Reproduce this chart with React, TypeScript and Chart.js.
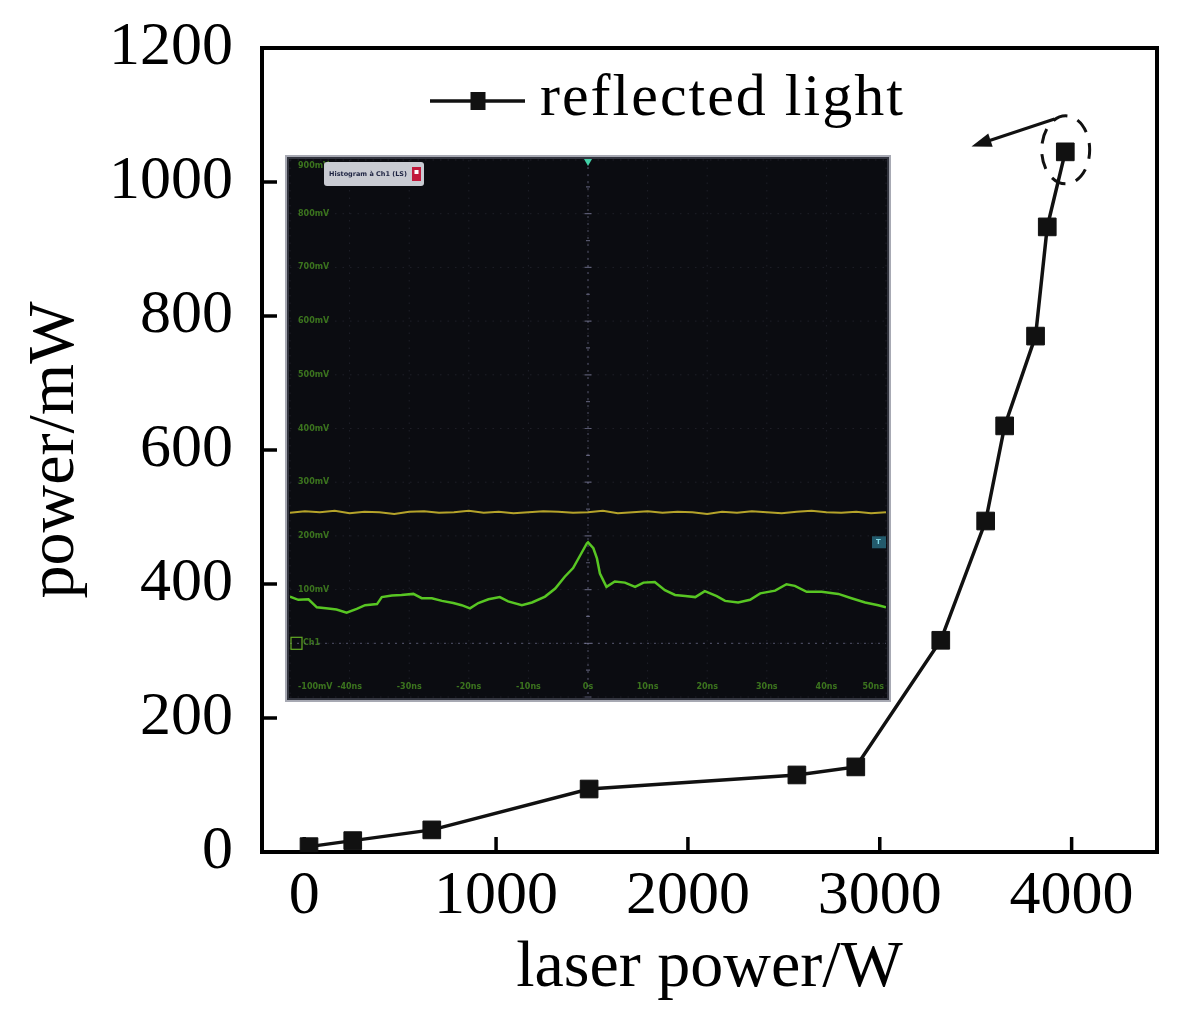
import React, { useEffect, useRef } from 'react';
import { Chart, registerables } from 'chart.js';

Chart.register(...registerables);

const SERIF = '"Liberation Serif", "Times New Roman", serif';

// ---------------- main chart data ----------------
const laserPower = [25, 253, 665, 1485, 2568, 2875, 3318, 3552, 3651, 3812, 3873, 3967];
const reflectedPower = [8, 17, 33, 94, 115, 127, 316, 494, 636, 770, 933, 1045];
const seriesLabel = 'reflected light';
const xTicks = [0, 1000, 2000, 3000, 4000];
const yTicks = [0, 200, 400, 600, 800, 1000, 1200];
const xTitle = 'laser power/W';
const yTitle = 'power/mW';
const arrowFrom = [3911, 1094];
const arrowTo = [3478, 1053];
const highlightCenter = [3969, 1048];

// ---------------- inset (oscilloscope screen, in divisions) ----------------
const scopeDivs = [0, 1, 2, 3, 4, 5, 6, 7, 8, 9, 10];
const scopeTime = [0, 0.14, 0.31, 0.45, 0.64, 0.78, 0.95, 1.12, 1.26, 1.46, 1.54, 1.71, 1.87, 2.07, 2.21, 2.38, 2.55, 2.74, 2.88, 3.02, 3.16, 3.33, 3.52, 3.66, 3.89, 4.06, 4.28, 4.45, 4.61, 4.75, 4.87, 4.98, 5.0, 5.09, 5.15, 5.2, 5.31, 5.45, 5.62, 5.79, 5.93, 6.12, 6.29, 6.46, 6.63, 6.8, 6.96, 7.16, 7.3, 7.52, 7.72, 7.89, 8.14, 8.33, 8.47, 8.67, 8.92, 9.2, 9.42, 9.65, 9.87, 10];
const scopeGreen = [1.87, 1.81, 1.82, 1.67, 1.65, 1.63, 1.57, 1.64, 1.71, 1.73, 1.86, 1.89, 1.9, 1.92, 1.84, 1.84, 1.79, 1.75, 1.71, 1.65, 1.75, 1.82, 1.86, 1.78, 1.71, 1.76, 1.87, 2.02, 2.24, 2.4, 2.64, 2.86, 2.88, 2.77, 2.58, 2.3, 2.05, 2.15, 2.13, 2.05, 2.13, 2.14, 1.99, 1.9, 1.88, 1.86, 1.97, 1.88, 1.79, 1.76, 1.81, 1.93, 1.98, 2.1, 2.07, 1.96, 1.96, 1.92, 1.84, 1.76, 1.71, 1.67];
const scopeYellowTime = [0, 0.25, 0.5, 0.75, 1, 1.25, 1.5, 1.75, 2, 2.25, 2.5, 2.75, 3, 3.25, 3.5, 3.75, 4, 4.25, 4.5, 4.75, 5, 5.25, 5.5, 5.75, 6, 6.25, 6.5, 6.75, 7, 7.25, 7.5, 7.75, 8, 8.25, 8.5, 8.75, 9, 9.25, 9.5, 9.75, 10];
const scopeYellow = [3.43, 3.46, 3.44, 3.47, 3.42, 3.45, 3.44, 3.41, 3.45, 3.46, 3.43, 3.44, 3.47, 3.43, 3.45, 3.42, 3.44, 3.46, 3.45, 3.43, 3.44, 3.47, 3.42, 3.44, 3.46, 3.43, 3.45, 3.44, 3.41, 3.45, 3.43, 3.46, 3.44, 3.42, 3.45, 3.47, 3.44, 3.43, 3.45, 3.42, 3.44];
const scopeLeftLabels = ['900mV', '800mV', '700mV', '600mV', '500mV', '400mV', '300mV', '200mV', '100mV', '-100mV'];
const scopeLeftDivs = [10, 9, 8, 7, 6, 5, 4, 3, 2, 0];
const scopeBottomLabels = ['-40ns', '-30ns', '-20ns', '-10ns', '0s', '10ns', '20ns', '30ns', '40ns', '50ns'];
const scopeBottomDivs = [1, 2, 3, 4, 5, 6, 7, 8, 9, 10];
const scopeHeader = 'Histogram à Ch1 (LS)';
const scopeChannel = 'Ch1';
const scopeChannelDiv = 1;
const scopeTriggerDiv = 5;

const mainDecor = {
  id: 'mainDecor',
  beforeDatasetsDraw(chart: any) {
    const { ctx, chartArea: a, scales } = chart;
    const xs = scales.x;
    const ys = scales.y;
    ctx.save();
    ctx.strokeStyle = '#000';
    ctx.lineWidth = 3.5;
    xTicks.forEach((v) => {
      const p = xs.getPixelForValue(v);
      ctx.beginPath();
      ctx.moveTo(p, a.bottom);
      ctx.lineTo(p, a.bottom - 15);
      ctx.stroke();
    });
    yTicks.forEach((v) => {
      const p = ys.getPixelForValue(v);
      ctx.beginPath();
      ctx.moveTo(a.left, p);
      ctx.lineTo(a.left + 15, p);
      ctx.stroke();
    });
    ctx.lineWidth = 4;
    ctx.strokeRect(a.left, a.top, a.right - a.left, a.bottom - a.top);
    ctx.restore();
  },
  afterDatasetsDraw(chart: any) {
    const { ctx, chartArea: a, scales } = chart;
    const xs = scales.x;
    const ys = scales.y;
    ctx.save();
    // dashed highlight ellipse
    const cx = xs.getPixelForValue(highlightCenter[0]);
    const cy = ys.getPixelForValue(highlightCenter[1]);
    ctx.strokeStyle = '#111';
    ctx.lineWidth = 3;
    ctx.setLineDash([15, 11]);
    ctx.lineDashOffset = 6;
    ctx.beginPath();
    ctx.ellipse(cx, cy, 24, 34, 0, 0, Math.PI * 2);
    ctx.stroke();
    ctx.setLineDash([]);
    // arrow
    const x0 = xs.getPixelForValue(arrowFrom[0]);
    const y0 = ys.getPixelForValue(arrowFrom[1]);
    const x1 = xs.getPixelForValue(arrowTo[0]);
    const y1 = ys.getPixelForValue(arrowTo[1]);
    const ang = Math.atan2(y1 - y0, x1 - x0);
    const hl = 20;
    const hw = 7;
    ctx.lineWidth = 3;
    ctx.beginPath();
    ctx.moveTo(x0, y0);
    ctx.lineTo(x1 - Math.cos(ang) * hl * 0.6, y1 - Math.sin(ang) * hl * 0.6);
    ctx.stroke();
    ctx.fillStyle = '#111';
    ctx.beginPath();
    ctx.moveTo(x1, y1);
    ctx.lineTo(x1 - Math.cos(ang) * hl + Math.sin(ang) * hw, y1 - Math.sin(ang) * hl - Math.cos(ang) * hw);
    ctx.lineTo(x1 - Math.cos(ang) * hl - Math.sin(ang) * hw, y1 - Math.sin(ang) * hl + Math.cos(ang) * hw);
    ctx.closePath();
    ctx.fill();
    // legend
    const ly = a.top + 53;
    const lx = a.left + 168;
    ctx.strokeStyle = '#111';
    ctx.lineWidth = 3.5;
    ctx.beginPath();
    ctx.moveTo(lx, ly);
    ctx.lineTo(lx + 95, ly);
    ctx.stroke();
    ctx.fillStyle = '#111';
    ctx.fillRect(lx + 48 - 7.5, ly - 9, 15, 18);
    ctx.fillStyle = '#000';
    ctx.font = `60px ${SERIF}`;
    try { (ctx as any).letterSpacing = '2px'; } catch (e) { /* ignore */ }
    ctx.textAlign = 'left';
    ctx.textBaseline = 'alphabetic';
    ctx.fillText(chart.data.datasets[0].label, lx + 110, a.top + 67);
    try { (ctx as any).letterSpacing = '0px'; } catch (e) { /* ignore */ }
    ctx.restore();
  },
};

const scopeDecor = {
  id: 'scopeDecor',
  beforeDatasetsDraw(chart: any) {
    const { ctx, width, height, chartArea: a, scales } = chart;
    const xs = scales.x;
    const ys = scales.y;
    ctx.save();
    ctx.fillStyle = '#0b0c11';
    ctx.fillRect(0, 0, width, height);
    ctx.strokeStyle = '#a7a9b3';
    ctx.lineWidth = 2;
    ctx.strokeRect(1, 1, width - 2, height - 2);
    ctx.strokeStyle = '#33353f';
    ctx.lineWidth = 2;
    ctx.strokeRect(3, 3, width - 6, height - 6);
    // faint dotted grid
    ctx.lineWidth = 1;
    ctx.setLineDash([1.5, 6]);
    ctx.strokeStyle = 'rgba(120,120,150,0.18)';
    scopeDivs.forEach((d) => {
      const px = xs.getPixelForValue(d);
      ctx.beginPath();
      ctx.moveTo(px, a.top);
      ctx.lineTo(px, a.bottom);
      ctx.stroke();
      const py = ys.getPixelForValue(d);
      ctx.beginPath();
      ctx.moveTo(a.left, py);
      ctx.lineTo(a.right, py);
      ctx.stroke();
    });
    // brighter reference lines
    ctx.setLineDash([2, 5]);
    ctx.strokeStyle = 'rgba(150,150,190,0.5)';
    const cxp = xs.getPixelForValue(scopeTriggerDiv);
    ctx.beginPath();
    ctx.moveTo(cxp, a.top);
    ctx.lineTo(cxp, a.bottom);
    ctx.stroke();
    const chp = ys.getPixelForValue(scopeChannelDiv);
    ctx.beginPath();
    ctx.moveTo(a.left, chp);
    ctx.lineTo(a.right, chp);
    ctx.stroke();
    ctx.setLineDash([]);
    // minor ticks on center line
    ctx.strokeStyle = 'rgba(150,150,185,0.55)';
    ctx.lineWidth = 1.2;
    for (let i = 0; i < scopeDivs.length - 1; i++) {
      const mid = ys.getPixelForValue((scopeDivs[i] + scopeDivs[i + 1]) / 2);
      const maj = ys.getPixelForValue(scopeDivs[i]);
      ctx.beginPath();
      ctx.moveTo(cxp - 2, mid);
      ctx.lineTo(cxp + 2, mid);
      ctx.moveTo(cxp - 3.5, maj);
      ctx.lineTo(cxp + 3.5, maj);
      ctx.stroke();
    }
    ctx.restore();
  },
  afterDatasetsDraw(chart: any) {
    const { ctx, chartArea: a, scales } = chart;
    const xs = scales.x;
    const ys = scales.y;
    ctx.save();
    ctx.font = 'bold 8px "DejaVu Sans", sans-serif';
    ctx.fillStyle = 'rgba(80,160,35,0.7)';
    ctx.textAlign = 'left';
    ctx.textBaseline = 'middle';
    scopeLeftLabels.forEach((t, i) => {
      let py = ys.getPixelForValue(scopeLeftDivs[i]);
      py = Math.max(a.top + 6, Math.min(a.bottom - 10, py));
      ctx.fillText(t, a.left + 8, py);
    });
    const by = ys.getPixelForValue(0) - 10;
    scopeBottomLabels.forEach((t, i) => {
      const d = scopeBottomDivs[i];
      const px = xs.getPixelForValue(d);
      ctx.textAlign = d === 10 ? 'right' : 'center';
      ctx.fillText(t, d === 10 ? px - 2 : px, by);
    });
    // channel marker
    const chp = ys.getPixelForValue(scopeChannelDiv);
    ctx.strokeStyle = 'rgba(110,190,40,0.9)';
    ctx.lineWidth = 1.2;
    ctx.strokeRect(a.left + 1, chp - 6, 11, 12);
    ctx.textAlign = 'left';
    ctx.fillText(scopeChannel, a.left + 13, chp);
    // trigger marker
    const tx = xs.getPixelForValue(scopeTriggerDiv);
    ctx.fillStyle = '#43d2a8';
    ctx.beginPath();
    ctx.moveTo(tx - 4, a.top - 1);
    ctx.lineTo(tx + 4, a.top - 1);
    ctx.lineTo(tx, a.top + 6);
    ctx.closePath();
    ctx.fill();
    // right level marker
    const ry = ys.getPixelForValue(scopeYellow[scopeYellow.length - 1]) + 30;
    ctx.fillStyle = 'rgba(40,105,125,0.85)';
    ctx.fillRect(a.right - 14, ry - 6, 14, 12);
    ctx.fillStyle = '#7fd8e6';
    ctx.font = 'bold 7px "DejaVu Sans", sans-serif';
    ctx.fillText('T', a.right - 10, ry);
    // header box
    const hx = a.left + 34;
    const hy = a.top + 2;
    ctx.fillStyle = '#c9cbd2';
    ctx.beginPath();
    (ctx as any).roundRect ? (ctx as any).roundRect(hx, hy, 100, 24, 3) : ctx.rect(hx, hy, 100, 24);
    ctx.fill();
    ctx.fillStyle = '#1c2240';
    ctx.font = 'bold 6.5px "DejaVu Sans", sans-serif';
    ctx.textAlign = 'left';
    ctx.fillText(scopeHeader, hx + 5, hy + 12, 80);
    ctx.fillStyle = '#c21a3c';
    ctx.fillRect(hx + 88, hy + 5, 9, 14);
    ctx.fillStyle = '#fff';
    ctx.fillRect(hx + 90.5, hy + 8, 4, 4);
    ctx.restore();
  },
};

export default function App() {
  const mainRef = useRef<HTMLCanvasElement | null>(null);
  const insetRef = useRef<HTMLCanvasElement | null>(null);

  useEffect(() => {
    if (!mainRef.current || !insetRef.current) return;
    const main = new Chart(mainRef.current, {
      type: 'line',
      data: {
        datasets: [
          {
            label: seriesLabel,
            data: laserPower.map((x, i) => ({ x, y: reflectedPower[i] })),
            borderColor: '#111',
            borderWidth: 3.5,
            backgroundColor: '#111',
            pointStyle: 'rect',
            pointRadius: 12.5,
            pointBackgroundColor: '#111',
            pointBorderColor: '#111',
            pointBorderWidth: 1,
            tension: 0,
          },
        ],
      },
      options: {
        responsive: false,
        animation: false,
        layout: { padding: { left: 0, right: 24, top: 48, bottom: 0 } },
        plugins: { legend: { display: false }, tooltip: { enabled: false } },
        scales: {
          x: {
            type: 'linear',
            min: -220,
            max: 4445,
            afterBuildTicks: (s: any) => {
              s.ticks = xTicks.map((v) => ({ value: v }));
            },
            afterFit: (s: any) => {
              s.height = 176;
              s.paddingLeft = 0;
              s.paddingRight = 0;
            },
            grid: { display: false, drawTicks: false },
            border: { display: false },
            ticks: {
              padding: 8,
              color: '#000',
              autoSkip: false,
              maxRotation: 0,
              font: { family: SERIF, size: 62 },
              callback: (v: any) => String(v),
            },
            title: {
              display: true,
              text: xTitle,
              color: '#000',
              font: { family: SERIF, size: 66 },
              padding: { top: 0, bottom: 20 },
            },
          },
          y: {
            type: 'linear',
            min: 0,
            max: 1200,
            afterBuildTicks: (s: any) => {
              s.ticks = yTicks.map((v) => ({ value: v }));
            },
            afterFit: (s: any) => {
              s.width = 262;
              s.paddingTop = 0;
              s.paddingBottom = 0;
            },
            grid: { display: false, drawTicks: false },
            border: { display: false },
            ticks: {
              padding: 29,
              color: '#000',
              font: { family: SERIF, size: 62 },
              callback: (v: any) => String(v),
            },
            title: {
              display: true,
              text: yTitle,
              color: '#000',
              font: { family: SERIF, size: 66 },
              padding: { top: 16, bottom: 0 },
            },
          },
        },
      },
      plugins: [mainDecor],
    });

    const inset = new Chart(insetRef.current, {
      type: 'line',
      data: {
        datasets: [
          {
            label: 'trace 2',
            data: scopeYellowTime.map((x, i) => ({ x, y: scopeYellow[i] })),
            borderColor: '#b5a32a',
            borderWidth: 2,
            pointRadius: 0,
            tension: 0,
          },
          {
            label: 'trace 1',
            data: scopeTime.map((x, i) => ({ x, y: scopeGreen[i] })),
            borderColor: '#58c623',
            borderWidth: 2.5,
            pointRadius: 0,
            tension: 0,
          },
        ],
      },
      options: {
        responsive: false,
        animation: false,
        layout: { padding: { left: 5, right: 5, top: 5, bottom: 5 } },
        plugins: { legend: { display: false }, tooltip: { enabled: false } },
        scales: {
          x: { type: 'linear', min: 0, max: 10, display: false },
          y: { type: 'linear', min: 0, max: 10, display: false },
        },
      },
      plugins: [scopeDecor],
    });

    return () => {
      main.destroy();
      inset.destroy();
    };
  }, []);

  return (
    <div style={{ position: 'absolute', left: 0, top: 0, width: 1181, height: 1028, background: '#fff' }}>
      <canvas ref={mainRef} width={1181} height={1028} style={{ position: 'absolute', left: 0, top: 0, width: 1181, height: 1028 }} />
      <canvas ref={insetRef} width={606} height={547} style={{ position: 'absolute', left: 285, top: 155, width: 606, height: 547 }} />
    </div>
  );
}
